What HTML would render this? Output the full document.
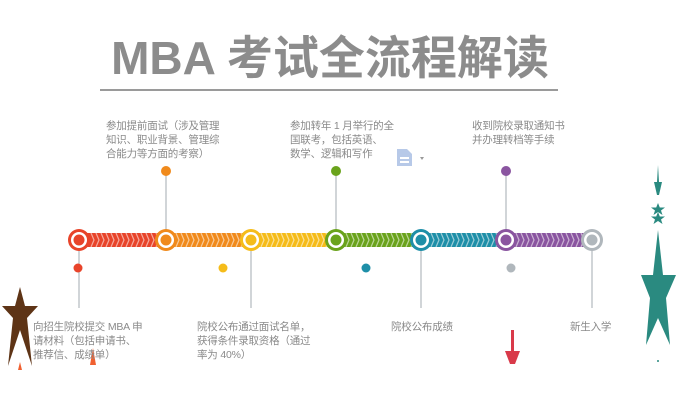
<!DOCTYPE html>
<html><head><meta charset="utf-8"><style>
html,body{margin:0;padding:0;background:#fff;}
body{width:680px;height:400px;position:relative;overflow:hidden;font-family:"Liberation Sans","Noto Sans CJK SC",sans-serif;}
.t{position:absolute;font-size:10.5px;line-height:14px;color:#8a8a8a;letter-spacing:-0.2px;}
.title{position:absolute;left:100px;top:28px;width:460px;text-align:center;font-family:"Liberation Sans","Noto Sans CJK SC",sans-serif;font-weight:bold;font-size:46px;line-height:60px;color:#8c8c8c;white-space:nowrap;}
</style></head><body>
<svg width="680" height="400" style="position:absolute;left:0;top:0">
<defs>
<pattern id="chev" width="5" height="14" patternUnits="userSpaceOnUse" y="233">
<polyline points="1,0 4,7 1,14" fill="none" stroke="#fff" stroke-opacity="0.55" stroke-width="1.2"/>
</pattern>
</defs>
<line x1="100" y1="90" x2="558" y2="90" stroke="#9a9a9a" stroke-width="2"/>
<rect x="79" y="233" width="87" height="14" fill="#e8442a"/>
<rect x="166" y="233" width="85" height="14" fill="#f08a1c"/>
<rect x="251" y="233" width="85" height="14" fill="#f5bc1a"/>
<rect x="336" y="233" width="85" height="14" fill="#6aa31c"/>
<rect x="421" y="233" width="85" height="14" fill="#1e8fa8"/>
<rect x="506" y="233" width="86" height="14" fill="#8a55a0"/>
<rect x="79" y="233" width="513" height="14" fill="url(#chev)"/>
<g stroke="#b8bec3" stroke-width="1.3">
<line x1="166" y1="171" x2="166" y2="230"/>
<line x1="336" y1="171" x2="336" y2="230"/>
<line x1="506" y1="171" x2="506" y2="230"/>
<line x1="79" y1="250" x2="79" y2="308"/>
<line x1="251" y1="250" x2="251" y2="308"/>
<line x1="421" y1="250" x2="421" y2="308"/>
<line x1="592" y1="250" x2="592" y2="308"/>
</g>
<circle cx="166" cy="171" r="5" fill="#f08a1c"/>
<circle cx="336" cy="171" r="5" fill="#6aa31c"/>
<circle cx="506" cy="171" r="5" fill="#8a55a0"/>
<circle cx="78" cy="268" r="4.5" fill="#e8442a"/>
<circle cx="223" cy="268" r="4.5" fill="#f5bc1a"/>
<circle cx="366" cy="268" r="4.5" fill="#1e8fa8"/>
<circle cx="511" cy="268" r="4.5" fill="#b0b7bc"/>
<g>
<circle cx="79" cy="240" r="11" fill="#e8442a"/><circle cx="79" cy="240" r="8" fill="#fff"/><circle cx="79" cy="240" r="5.5" fill="#e8442a"/>
<circle cx="166" cy="240" r="11" fill="#f08a1c"/><circle cx="166" cy="240" r="8" fill="#fff"/><circle cx="166" cy="240" r="5.5" fill="#f08a1c"/>
<circle cx="251" cy="240" r="11" fill="#f5bc1a"/><circle cx="251" cy="240" r="8" fill="#fff"/><circle cx="251" cy="240" r="5.5" fill="#f5bc1a"/>
<circle cx="336" cy="240" r="11" fill="#6aa31c"/><circle cx="336" cy="240" r="8" fill="#fff"/><circle cx="336" cy="240" r="5.5" fill="#6aa31c"/>
<circle cx="421" cy="240" r="11" fill="#1e8fa8"/><circle cx="421" cy="240" r="8" fill="#fff"/><circle cx="421" cy="240" r="5.5" fill="#1e8fa8"/>
<circle cx="506" cy="240" r="11" fill="#8a55a0"/><circle cx="506" cy="240" r="8" fill="#fff"/><circle cx="506" cy="240" r="5.5" fill="#8a55a0"/>
<circle cx="592" cy="240" r="11" fill="#b0b7bc"/><circle cx="592" cy="240" r="8" fill="#fff"/><circle cx="592" cy="240" r="5.5" fill="#b0b7bc"/>
</g>
<path d="M397 149 h10 l5 5 v12 h-15 z" fill="#b7c9e8"/>
<rect x="400" y="157" width="9" height="2" fill="#fff"/><rect x="400" y="161" width="9" height="2" fill="#fff"/>
<path d="M420 157 l4 0 l-2 3 z" fill="#999"/>
<polygon points="20,287 25,306 38,306 27,318 32,366 20,330 8,366 13,318 2,306 15,306" fill="#5e3416"/>
<polygon points="20,362 22,370 18,370" fill="#f06030"/>
<polygon points="93,348 96,365 90,365" fill="#f06030"/>
<rect x="511" y="330" width="3" height="22" fill="#d93a4a"/>
<polygon points="505,351 520,351 515,364 510,364" fill="#d93a4a"/>
<polygon points="658,165 659,182 662,182 659,195 657,195 654,182 657,182" fill="#2a8a80"/>
<polygon points="658,203 659.8,207.5 665,207.5 661,210.5 662.5,215 658,212 653.5,215 655,210.5 651,207.5 656.2,207.5" fill="#2a8a80"/>
<polygon points="658,212 659.8,216.5 665,216.5 661,219.5 662.5,224 658,221 653.5,224 655,219.5 651,216.5 656.2,216.5" fill="#2a8a80"/>
<polygon points="658,230 663,275 676,275 666,298 670,345 658,318 646,345 650,298 641,275 653,275" fill="#2a8a80"/>
<circle cx="658" cy="361" r="1" fill="#2a8a80"/>
</svg>
<div class="title">MBA 考试全流程解读</div>
<div class="t" style="left:106px;top:119px;width:124px;">参加提前面试（涉及管理<br>知识、职业背景、管理综<br>合能力等方面的考察）</div>
<div class="t" style="left:290px;top:119px;width:120px;">参加转年 1 月举行的全<br>国联考，包括英语、<br>数学、逻辑和写作</div>
<div class="t" style="left:472px;top:119px;width:120px;">收到院校录取通知书<br>并办理转档等手续</div>
<div class="t" style="left:33px;top:320px;width:125px;">向招生院校提交 MBA 申<br>请材料（包括申请书、<br>推荐信、成绩单）</div>
<div class="t" style="left:197px;top:320px;width:125px;">院校公布通过面试名单，<br>获得条件录取资格（通过<br>率为 40%）</div>
<div class="t" style="left:391px;top:320px;width:100px;">院校公布成绩</div>
<div class="t" style="left:570px;top:320px;width:80px;">新生入学</div>
</body></html>
